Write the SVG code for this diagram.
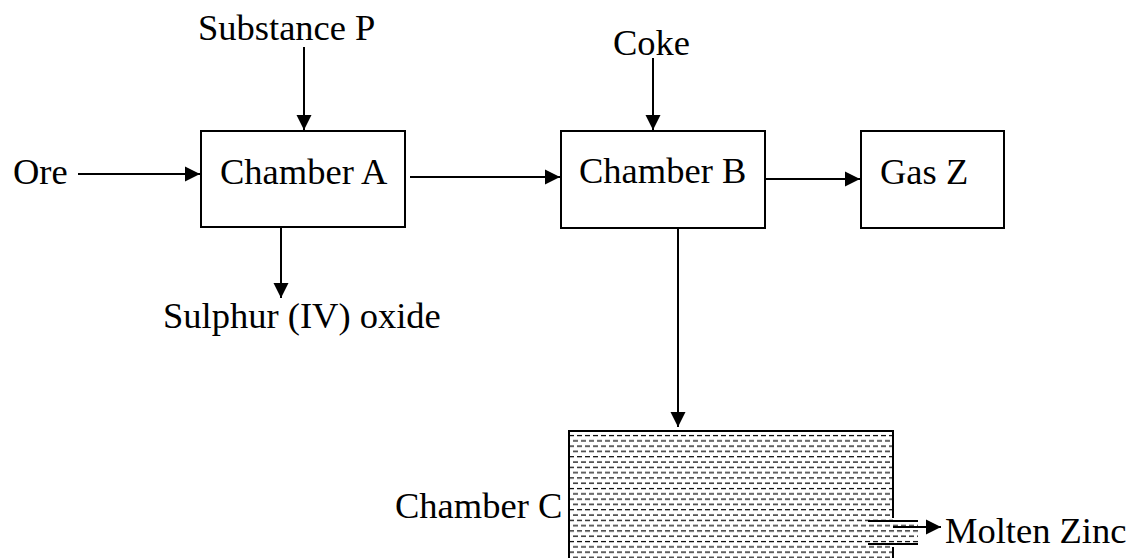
<svg xmlns="http://www.w3.org/2000/svg" width="1130" height="558" viewBox="0 0 1130 558">
<style>
text{font-family:"Times New Roman","Liberation Serif","DejaVu Serif",serif;font-size:36.5px;fill:#000}
.box{fill:#fff;stroke:#000;stroke-width:2}
.con{stroke:#000;stroke-width:2;fill:none}
</style>
<defs>
<marker id="ah" markerUnits="userSpaceOnUse" markerWidth="16" markerHeight="16" viewBox="0 0 16 16" refX="15" refY="8" orient="auto">
<path d="M0,0.5 L15,8 L0,15.5 Z" fill="#000"/>
</marker>
<pattern id="hatch" patternUnits="userSpaceOnUse" x="569" y="433" width="8" height="10.6">
<path d="M0,2.5 h5 M4,7.8 h4 M0,7.8 h1" stroke="#000" stroke-width="1.2"/>
</pattern>
</defs>
<rect width="1130" height="558" fill="#fff"/>
<g id="chamberA"><rect class="box" x="201" y="131" width="204" height="96"/><text x="220" y="184">Chamber A</text></g>
<g id="chamberB"><rect class="box" x="561" y="131" width="204" height="97"/><text x="579" y="183">Chamber B</text></g>
<g id="gasZ"><rect class="box" x="861" y="131" width="143" height="97"/><text x="880" y="184">Gas Z</text></g>
<g id="chamberC">
<rect x="569" y="431" width="324" height="130" fill="url(#hatch)"/>
<rect x="893" y="521" width="25" height="23" fill="url(#hatch)"/>
<path class="con" d="M569,560 V431 H893 V518 M893,547 V560"/>
<path class="con" d="M868,521 H918 M868,544 H918"/>
<text x="395" y="518">Chamber C</text>
</g>
<g id="ore"><text x="13" y="184">Ore</text></g>
<g id="substanceP"><text x="198" y="40">Substance P</text></g>
<g id="coke"><text x="613" y="55">Coke</text></g>
<g id="sulphur"><text x="163" y="328">Sulphur (IV) oxide</text></g>
<g id="zinc"><text x="945" y="543">Molten Zinc</text></g>
<g id="connectors" class="con">
<line x1="78" y1="174" x2="200" y2="174" marker-end="url(#ah)"/>
<line x1="304" y1="47" x2="304" y2="130" marker-end="url(#ah)"/>
<line x1="410" y1="177" x2="560" y2="177" marker-end="url(#ah)"/>
<line x1="653" y1="58" x2="653" y2="130" marker-end="url(#ah)"/>
<line x1="764" y1="179" x2="860" y2="179" marker-end="url(#ah)"/>
<line x1="281" y1="227" x2="281" y2="298" marker-end="url(#ah)"/>
<line x1="678" y1="228" x2="678" y2="427" marker-end="url(#ah)"/>
<line x1="893" y1="527" x2="941" y2="527" marker-end="url(#ah)"/>
</g>
</svg>
